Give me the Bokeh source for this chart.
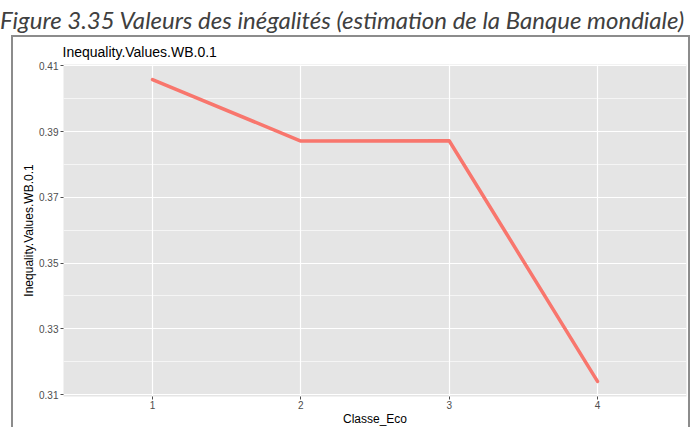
from bokeh.plotting import figure
from bokeh.models import Range1d, FixedTicker, NumeralTickFormatter, Div, ColumnDataSource
from bokeh.layouts import column
from bokeh.embed import file_html
from bokeh.resources import INLINE

# ---- data ----
caption = "Figure 3.35 Valeurs des inégalités (estimation de la Banque mondiale)"
plot_title = "Inequality.Values.WB.0.1"
x_label = "Classe_Eco"
y_label = "Inequality.Values.WB.0.1"
classe_eco = [1, 2, 3, 4]
inequality = [0.4058, 0.3871, 0.3872, 0.3140]
y_ticks = [0.31, 0.33, 0.35, 0.37, 0.39, 0.41]
y_minor = [0.32, 0.34, 0.36, 0.38, 0.40]

FONT = "Liberation Sans"
PANEL = "#E5E5E5"
LINE = "#F8766D"

ymin, ymax = min(inequality), max(inequality)
ypad = (ymax - ymin) * 0.05

p = figure(width=669, height=391,
           x_range=Range1d(0.4, 4.6),
           y_range=Range1d(ymin - ypad, ymax + ypad),
           output_backend="svg", toolbar_location=None,
           min_border_left=0, min_border_right=2,
           min_border_top=0, min_border_bottom=0,
           background_fill_color=PANEL, border_fill_color="white",
           outline_line_color=None)

p.title.text = plot_title
p.title.text_font = FONT
p.title.text_font_size = "14px"
p.title.text_font_style = "normal"
p.title.text_color = "black"
p.title.align = "left"
p.title.offset = -1
p.title.standoff = 9

src = ColumnDataSource(dict(x=classe_eco, y=inequality))
p.line("x", "y", source=src, line_color=LINE, line_width=3.5,
       line_cap="round", line_join="round")

for ax in (p.xaxis[0], p.yaxis[0]):
    ax.axis_line_color = None
    ax.major_tick_line_color = "#4d4d4d"
    ax.major_tick_out = 3
    ax.major_tick_in = 0
    ax.minor_tick_line_color = None
    ax.major_label_text_font = FONT
    ax.major_label_text_font_size = "10px"
    ax.major_label_text_color = "#4d4d4d"
    ax.axis_label_text_font = FONT
    ax.axis_label_text_font_size = "12px"
    ax.axis_label_text_font_style = "normal"
    ax.axis_label_text_color = "black"

p.xaxis.ticker = FixedTicker(ticks=classe_eco)
p.xaxis.axis_label = x_label
p.xaxis.major_label_standoff = 1
p.xaxis.axis_label_standoff = 0

p.yaxis.ticker = FixedTicker(ticks=y_ticks, minor_ticks=y_minor)
p.yaxis.formatter = NumeralTickFormatter(format="0.00")
p.yaxis.axis_label = y_label
p.yaxis.major_label_standoff = 1
p.yaxis.axis_label_standoff = 0

p.xgrid.grid_line_color = "white"
p.xgrid.grid_line_width = 1.2
p.ygrid.grid_line_color = "white"
p.ygrid.grid_line_width = 1.2
p.ygrid.minor_grid_line_color = "white"
p.ygrid.minor_grid_line_width = 0.6

boxed = column(p, spacing=0, margin=(0, 0, 0, 11),
               styles={"border-top": "2px solid #8c8c8c",
                       "border-left": "2px solid #8c8c8c",
                       "border-right": "2px solid #8c8c8c",
                       "padding-left": "6px"})

cap = Div(text=caption, width=695, height=31, margin=(0, 0, 0, 0),
          styles={"font-family": "Lato", "font-style": "italic",
                  "font-size": "24px", "color": "#404040",
                  "white-space": "nowrap", "line-height": "31px",
                  "overflow": "hidden"})

layout = column(cap, boxed, spacing=0, margin=(4, 0, 0, 0))

open("out.html", "w").write(file_html(layout, INLINE))
